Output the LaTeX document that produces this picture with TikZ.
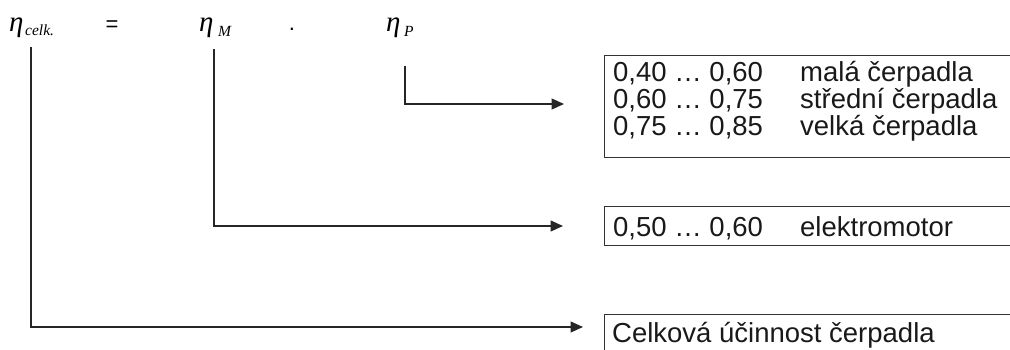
\documentclass[tikz,border=0pt]{standalone}
\usepackage{fontspec}
\setmainfont{Liberation Sans}
\newfontfamily\serifit{Liberation Serif}
\usetikzlibrary{arrows.meta}

\begin{document}
\begin{tikzpicture}[x=1pt,y=-1pt,
  conn/.style={line width=1.4pt, draw=black!85, -{Triangle[length=12.5pt,width=11pt]}},
  frame/.style={draw=black!80, line width=1.1pt, anchor=north west, inner sep=0pt},
  txt/.style={font=\fontsize{27.5}{27}\selectfont, anchor=base west, inner sep=0pt, text=black!90},
  eta/.style={font=\serifit\itshape\fontsize{29}{30}\selectfont, anchor=base west, inner sep=0pt},
  sub/.style={font=\serifit\itshape\fontsize{15.5}{16}\selectfont, anchor=base west, inner sep=0pt},
  op/.style={font=\fontsize{22}{22}\selectfont, anchor=base, inner sep=0pt}]
\useasboundingbox (0,0) rectangle (1010,349);
\clip (0,0) rectangle (1010,349);

% efficiency formula
\node[eta] (ec) at (9,31) {η};
\node[sub] (ecs) at (25,35) {celk.};
\node[op] (eq) at (112,31) {=};
\node[eta] (em) at (199,31) {η};
\node[sub] (ems) at (218,36) {M};
\node[op] (dot) at (292,30) {.};
\node[eta] (ep) at (386,31) {η};
\node[sub] (eps) at (404,36) {P};

% value boxes (open to the right edge)
\node[frame, minimum width=430pt, minimum height=102pt] (b1) at (604,55) {};
\node[frame, minimum width=430pt, minimum height=39pt] (b2) at (604,206) {};
\node[frame, minimum width=430pt, minimum height=60pt] (b3) at (604,314) {};

\node[txt] (r1a) at (613,81) {0,40 … 0,60};
\node[txt] (r1b) at (800,81) {malá čerpadla};
\node[txt] (r2a) at (613,108) {0,60 … 0,75};
\node[txt] (r2b) at (800,108) {střední čerpadla};
\node[txt] (r3a) at (613,135) {0,75 … 0,85};
\node[txt] (r3b) at (800,135) {velká čerpadla};
\node[txt] (r4a) at (613,236) {0,50 … 0,60};
\node[txt] (r4b) at (800,236) {elektromotor};
\node[txt] (r5) at (612,342) {Celková účinnost čerpadla};

% connectors
\coordinate (sP) at (405,66);
\coordinate (tP) at (564,104);
\coordinate (sM) at (214,49);
\coordinate (tM) at (563,226);
\coordinate (sC) at (31,47);
\coordinate (tC) at (583,327);
\draw[conn] (sP) |- (tP);
\draw[conn] (sM) |- (tM);
\draw[conn] (sC) |- (tC);
\end{tikzpicture}
\end{document}
